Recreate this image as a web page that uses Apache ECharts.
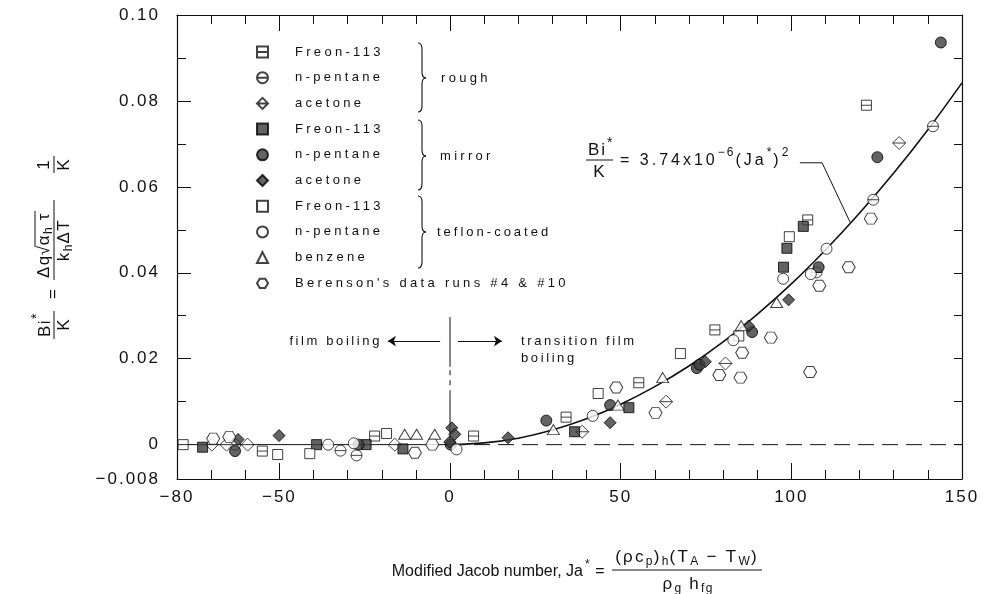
<!DOCTYPE html>
<html><head><meta charset="utf-8">
<script src="https://cdn.jsdelivr.net/npm/echarts@6/dist/echarts.min.js"></script>
<style>html,body{margin:0;padding:0;background:#fff}#c{width:983px;height:594px}</style>
</head><body><div id="c"></div>
<script>
// ---------------- data ----------------
const xTickLabels = [-80, -50, 0, 50, 100, 150];
const xMajorTicks = [-50, 0, 50, 100];
const xMinorTicks = [-70, -60, -40, -30, -20, -10, 10, 20, 30, 40, 60, 70, 80, 90, 110, 120, 130, 140];
const yTickLabels = [-0.008, 0, 0.02, 0.04, 0.06, 0.08, 0.10];
const yMajorTicks = [0, 0.02, 0.04, 0.06, 0.08];
const yMinorTicks = [0.01, 0.03, 0.05, 0.07, 0.09];
const yRightTicks = [0, 0.01, 0.02, 0.03, 0.04, 0.05, 0.06, 0.07, 0.08, 0.09];

const roughFreon = [[-78.2,0],[-55.0,-0.0015],[-22.1,0.0020],[6.9,0.0020],[34.0,0.0064],[55.3,0.0144],[77.6,0.0267],[104.8,0.0523],[122.0,0.0790]];
const roughPentane = [[-63.0,0],[-32.1,-0.0014],[-27.4,-0.0025],[107.4,0.0401],[124.0,0.0570],[141.5,0.0741]];
const roughAcetone = [[-69.8,0],[-65.5,0],[-59.3,0],[-16.2,0],[38.7,0.0030],[63.3,0.0100],[80.7,0.0189],[131.6,0.0702]];
const mirrorFreon = [[-72.5,-0.0006],[-39.1,0],[-24.6,0],[-13.8,-0.0010],[36.5,0.0030],[52.4,0.0086],[97.7,0.0413],[98.7,0.0457],[103.5,0.0508]];
const mirrorPentane = [[-63.0,-0.0015],[-26.8,0],[0.2,0],[28.2,0.0056],[46.9,0.0092],[72.3,0.0178],[73.1,0.0186],[88.5,0.0262],[108.0,0.0413],[125.2,0.0669],[143.8,0.0936]];
const mirrorAcetone = [[-62.1,0.0012],[-50.1,0.0021],[0.5,0.0039],[1.4,0.0024],[-0.1,0.0006],[17.0,0.0016],[46.9,0.0051],[74.8,0.0193],[87.5,0.0276],[99.2,0.0337]];
const teflonFreon = [[-50.5,-0.0023],[-41.1,-0.0021],[-18.6,0.0026],[43.4,0.0119],[67.5,0.0212],[84.6,0.0253],[99.4,0.0484]];
const teflonPentane = [[-35.7,0],[-28.2,0.0003],[1.9,-0.0011],[41.8,0.0067],[83.0,0.0243],[97.6,0.0386],[105.7,0.0397],[110.3,0.0456]];
const teflonBenzene = [[-13.3,0.0024],[-9.8,0.0024],[-4.5,0.0024],[30.3,0.0035],[49.2,0.0092],[62.3,0.0156],[85.3,0.0277],[95.7,0.0331]];
const berenson = [[-69.4,0.0014],[-64.7,0.0018],[-10.3,-0.0019],[-5.2,0],[48.7,0.0133],[60.2,0.0074],[78.9,0.0162],[85.1,0.0156],[85.6,0.0214],[94.0,0.0249],[105.5,0.0169],[108.2,0.0370],[116.8,0.0413],[123.3,0.0526]];

// correlation curve Bi*/K = 3.74e-6 (Ja*)^2
const fitX = [0, 10, 20, 30, 40, 50, 60, 70, 80, 90, 100, 110, 120, 130, 140, 150];
const fitY = [0, 0.0004, 0.0015, 0.0034, 0.0060, 0.0094, 0.0135, 0.0183, 0.0239, 0.0303, 0.0374, 0.0453, 0.0539, 0.0632, 0.0733, 0.0842];
const filmBase = [[-80, 0], [0, 0]];
const zeroRef = [[0, 0], [150, 0]];
const dividerSolidLow = [[0, 0], [0, 0.0115]];
const dividerDashed = [[0, 0.0115], [0, 0.0181]];
const dividerSolidHigh = [[0, 0.0181], [0, 0.0297]];
const arrowFilm = [[-2.9, 0.0241], [-18.2, 0.0241]];
const arrowTransition = [[2.3, 0.0241], [15.2, 0.0241]];
const leader = [[102.5, 0.0656], [109.0, 0.0656], [117.2, 0.0518]];

// ---------------- letter spacing for the typewriter-like lettering ----------------
(function () {
  const P = CanvasRenderingContext2D.prototype;
  if (!('letterSpacing' in P)) return;
  const of = P.fillText;
  P.fillText = function (t, x, y, m) {
    const mm = /xls(\d+)/.exec(this.font);
    this.letterSpacing = mm ? (mm[1] / 10) + 'px' : '0px';
    return m === undefined ? of.call(this, t, x, y) : of.call(this, t, x, y, m);
  };
})();

const INK = '#111';
const fam = sp => "'Liberation Sans', xls" + Math.round(sp * 10) + ", sans-serif";

const SYM = {
  sqLine: 'path://M0,0L10,0L10,10L0,10Z M0,5L10,5',
  circLine: 'path://M0,5A5,5,0,1,1,10,5A5,5,0,1,1,0,5Z M0,5L10,5',
  diaLine: 'path://M5,0L10,5L5,10L0,5Z M0,5L10,5',
  hex: 'path://M3,0L9,0L12,5L9,10L3,10L0,5Z'
};
const openStyle = { color: '#fff', borderColor: INK, borderWidth: 1 };
const fillStyle = { color: '#3c3c3c', borderColor: '#000', borderWidth: 1 };

function sc(name, data, symbol, size, style) {
  return { type: 'scatter', name, data, symbol, symbolSize: size, itemStyle: style, z: 4, xAxisIndex: 0, yAxisIndex: 0 };
}
function ln(data, opts) {
  return Object.assign({ type: 'line', data, showSymbol: false, symbol: 'none', silent: true, z: 2,
    lineStyle: { color: INK, width: 1 }, xAxisIndex: 0, yAxisIndex: 0 }, opts);
}

const scatterSeries = [
  sc('Freon-113|rough', roughFreon, SYM.sqLine, 10, openStyle),
  sc('n-pentane|rough', roughPentane, SYM.circLine, 11, openStyle),
  sc('acetone|rough', roughAcetone, SYM.diaLine, 13, openStyle),
  sc('Freon-113|mirror', mirrorFreon, 'rect', 10, fillStyle),
  sc('n-pentane|mirror', mirrorPentane, 'circle', 11, fillStyle),
  sc('acetone|mirror', mirrorAcetone, 'diamond', 12, fillStyle),
  sc('Freon-113|teflon', teflonFreon, 'rect', 10, openStyle),
  sc('n-pentane|teflon', teflonPentane, 'circle', 11, openStyle),
  sc('benzene|teflon', teflonBenzene, 'triangle', [12, 10], openStyle),
  sc("Berenson's data runs #4 & #10", berenson, SYM.hex, [13, 11], openStyle)
];

// ---------------- text helpers (annotation layout) ----------------
const mc = document.createElement('canvas').getContext('2d');
function textW(t, size, sp) { mc.font = size + "px 'Liberation Sans'"; return mc.measureText(t).width + sp * Array.from(t).length; }
function txt(t, x, y, size, sp, align) {
  return { type: 'text', x, y, silent: true,
    style: { text: t, font: size + 'px ' + fam(sp), fill: INK, align: align, verticalAlign: 'middle', textAlign: align, textVerticalAlign: 'middle' } };
}
function seqW(pieces, o) {
  let w = 0;
  for (const [t, k] of pieces) w += textW(t, k === 'n' ? o.size : o.small, k === 'n' ? o.sp : o.spSmall);
  return w;
}
function seq(x0, y0, pieces, o, center) {
  const out = [];
  let x = center ? x0 - seqW(pieces, o) / 2 : x0;
  for (const [t, k] of pieces) {
    const size = k === 'n' ? o.size : o.small;
    const sp = k === 'n' ? o.sp : o.spSmall;
    const dy = k === 'sub' ? o.subDy : (k === 'sup' ? o.supDy : 0);
    out.push(txt(t, x, y0 + dy, size, sp, 'left'));
    x += textW(t, size, sp);
  }
  out.end = x;
  return out;
}
function hline(x1, x2, y, w) { return { type: 'line', silent: true, shape: { x1, y1: y, x2, y2: y }, style: { stroke: INK, lineWidth: w || 1 } }; }
function brace(x, top, mid, bot) {
  const s = { stroke: INK, lineWidth: 1.1, fill: null };
  const xm = x + 4, xr = x + 8, r = 6;
  return [
    { type: 'bezierCurve', silent: true, shape: { x1: x, y1: top, x2: xm, y2: top + r, cpx1: xm, cpy1: top }, style: s },
    { type: 'line', silent: true, shape: { x1: xm, y1: top + r, x2: xm, y2: mid - r }, style: s },
    { type: 'bezierCurve', silent: true, shape: { x1: xm, y1: mid - r, x2: xr, y2: mid, cpx1: xm, cpy1: mid }, style: s },
    { type: 'bezierCurve', silent: true, shape: { x1: xr, y1: mid, x2: xm, y2: mid + r, cpx1: xm, cpy1: mid }, style: s },
    { type: 'line', silent: true, shape: { x1: xm, y1: mid + r, x2: xm, y2: bot - r }, style: s },
    { type: 'bezierCurve', silent: true, shape: { x1: xm, y1: bot - r, x2: x, y2: bot, cpx1: xm, cpy1: bot }, style: s }
  ];
}

const G = [];
// braces and group labels of the legend
G.push(...brace(418, 43, 78, 112), ...brace(418, 120, 156, 190), ...brace(418, 196, 232, 268));
G.push(txt('rough', 441, 78, 13, 3.3, 'left'), txt('mirror', 440, 156, 13, 3.3, 'left'), txt('teflon-coated', 437, 232, 13, 3.0, 'left'));
// film boiling annotation
G.push(txt('film boiling', 382, 341, 13, 2.6, 'right'));
G.push(txt('transition film', 521, 341, 13, 2.6, 'left'), txt('boiling', 521, 358, 13, 2.6, 'left'));
// correlation equation
const eqO = { size: 16, small: 12, sp: 3, spSmall: 2, subDy: 5, supDy: -8 };
G.push(...seq(588, 150, [['Bi', 'n'], ['*', 'sup']], { size: 17, small: 14, sp: 2, spSmall: 1, subDy: 5, supDy: -7 }));
G.push(hline(586, 613, 160, 1));
G.push(txt('K', 599, 172, 17, 0, 'center'));
G.push(...seq(620, 161, [['= 3.74x10', 'n'], ['\u22126', 'sup'], ['(Ja', 'n'], ['*', 'sup'], [')', 'n'], ['2', 'sup']], eqO));

// x-axis title
G.push(txt('Modified Jacob number, Ja', 583, 572, 16, 0, 'right'));
G.push(txt('*', 585, 565, 12, 0, 'left'));
G.push(txt('=', 600, 572, 16, 0, 'center'));
const xtO = { size: 17, small: 12, sp: 2.3, spSmall: 1.2, subDy: 5, supDy: -7 };
G.push(...seq(687, 557, [['(\u03C1c', 'n'], ['p', 'sub'], [')', 'n'], ['h', 'sub'], ['(T', 'n'], ['A', 'sub'], [' \u2212 T', 'n'], ['W', 'sub'], [')', 'n']], xtO, true));
G.push(hline(612, 762, 570, 1));
G.push(...seq(688, 584, [['\u03C1', 'n'], ['g', 'sub'], [' h', 'n'], ['fg', 'sub']], xtO, true));

// y-axis title (built horizontally, rotated 90 degrees)
const yt = [];
const ytO = { size: 17, small: 12, sp: 1.5, spSmall: 1, subDy: 5, supDy: -8 };
yt.push(...seq(3, -9, [['Bi', 'n'], ['*', 'sup']], { size: 17, small: 14, sp: 1.5, spSmall: 1, subDy: 5, supDy: -8 }));
yt.push(hline(1, 29, 0, 1));
yt.push(txt('K', 15, 10, 17, 0, 'center'));
yt.push(txt('=', 46, -1, 17, 0, 'center'));
const num1 = seq(62, -10, [['\u0394q', 'n']], ytO);
yt.push(...num1);
const rad = seq(num1.end - 1, -10, [['\u221A', 'n']], ytO);
yt.push(...rad);
const under = seq(rad.end - 1, -10, [['\u03B1', 'n'], ['h', 'sub'], [' \u03C4', 'n']], ytO);
yt.push(...under);
yt.push(hline(rad.end - 2.5, under.end + 1, -19, 1));
yt.push(hline(60, 140, 0, 1));
yt.push(...seq(100, 10, [['k', 'n'], ['h', 'sub'], ['\u0394T', 'n']], ytO, true));
yt.push(txt('1', 175, -10, 17, 0, 'center'));
yt.push(hline(167, 184, 0, 1));
yt.push(txt('K', 175, 10, 17, 0, 'center'));
G.push({ type: 'group', x: 54, y: 340, rotation: Math.PI / 2, children: yt });

// ---------------- chart ----------------
const chart = echarts.init(document.getElementById('c'), null, { renderer: 'canvas' });
const axisFont = { fontFamily: fam(2), fontSize: 17, color: INK };
const fmtX = v => (v < 0 ? '\u2212' + Math.abs(v) : String(v));
const fmtY = v => {
  if (Math.abs(v) < 1e-12) return '0';
  if (v < 0) return '\u2212' + Math.abs(v).toFixed(3);
  return v.toFixed(2);
};
const xBase = { type: 'value', min: -80, max: 150, splitLine: { show: false }, gridIndex: 0 };
const yBase = { type: 'value', min: -0.008, max: 0.10, splitLine: { show: false }, gridIndex: 0 };
const lineOn = { show: true, onZero: false, lineStyle: { color: INK, width: 1.2 } };
const lineOff = { show: false, onZero: false };
const tick = (vals, len) => ({ show: true, inside: true, length: len, customValues: vals, lineStyle: { color: INK, width: 1 } });

chart.setOption({
  animation: false,
  backgroundColor: '#fff',
  grid: { left: 177, right: 21, top: 15, bottom: 115, containLabel: false },
  xAxis: [
    Object.assign({}, xBase, { position: 'bottom', axisLine: lineOn, axisTick: tick(xMajorTicks, 16),
      axisLabel: Object.assign({ customValues: xTickLabels, formatter: fmtX, margin: 10 }, axisFont) }),
    Object.assign({}, xBase, { position: 'bottom', axisLine: lineOff, axisTick: tick(xMinorTicks, 9), axisLabel: { show: false } }),
    Object.assign({}, xBase, { position: 'top', axisLine: lineOn, axisTick: tick(xMajorTicks, 16), axisLabel: { show: false } }),
    Object.assign({}, xBase, { position: 'top', axisLine: lineOff, axisTick: tick(xMinorTicks, 9), axisLabel: { show: false } })
  ],
  yAxis: [
    Object.assign({}, yBase, { position: 'left', axisLine: lineOn, axisTick: tick(yMajorTicks, 14),
      axisLabel: Object.assign({ customValues: yTickLabels, formatter: fmtY, margin: 17 }, axisFont) }),
    Object.assign({}, yBase, { position: 'left', axisLine: lineOff, axisTick: tick(yMinorTicks, 9), axisLabel: { show: false } }),
    Object.assign({}, yBase, { position: 'right', axisLine: lineOn, axisTick: tick(yRightTicks, 8), axisLabel: { show: false } })
  ],
  legend: {
    orient: 'vertical', left: 256, top: 45, padding: 0, itemWidth: 11, itemHeight: 11, itemGap: 11.7,
    selectedMode: false,
    data: scatterSeries.map(s => s.name),
    formatter: name => name.split('|')[0],
    textStyle: { fontFamily: fam(3.3), fontSize: 13, color: INK, lineHeight: 14, padding: [0, 0, 0, 22] }
  },
  graphic: { elements: G },
  series: [
    ln(filmBase),
    ln(zeroRef, { lineStyle: { color: INK, width: 1, type: [16, 8] } }),
    ln(fitX.map((x, i) => [x, fitY[i]]), { smooth: 0.35, lineStyle: { color: INK, width: 1.6 } }),
    ln(dividerSolidLow),
    ln(dividerDashed, { lineStyle: { color: INK, width: 1, type: [5, 5] } }),
    ln(dividerSolidHigh),
    { type: 'lines', coordinateSystem: 'cartesian2d', silent: true, z: 3, symbol: ['none', 'arrow'], symbolSize: 8,
      lineStyle: { color: INK, width: 1, opacity: 1 },
      data: [{ coords: arrowFilm }, { coords: arrowTransition }] },
    { type: 'lines', coordinateSystem: 'cartesian2d', polyline: true, silent: true, z: 3, symbol: ['none', 'arrow'], symbolSize: 9,
      lineStyle: { color: INK, width: 1, opacity: 1 },
      data: [{ coords: leader }] }
  ].concat(scatterSeries)
});
</script></body></html>
